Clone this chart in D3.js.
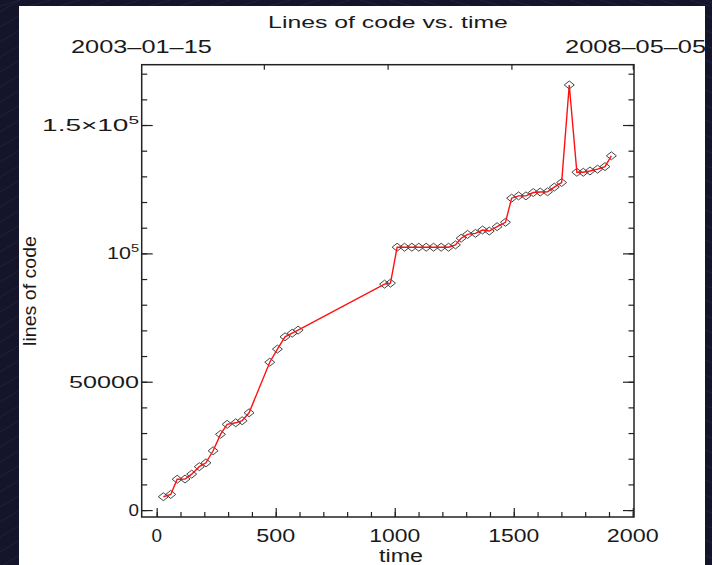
<!DOCTYPE html>
<html>
<head>
<meta charset="utf-8">
<script src="https://cdn.jsdelivr.net/npm/d3@7"></script>
<style>
  html, body { margin: 0; padding: 0; background: #14152a; }
  svg { display: block; }
  text { font-family: "Liberation Sans", Arial, sans-serif; fill: #1a1a1a; }
</style>
</head>
<body>
<svg id="chart" width="712" height="565"></svg>
<script>
// ---- data ----
const timeValues = [28,59,86,119,147,179,207,237,268,296,332,359,388,475,507,539,569,594,957,982,
  1010,1041,1072,1101,1132,1163,1195,1226,1255,1279,1306,1339,1369,1397,1430,1465,
  1491,1520,1551,1582,1611,1642,1670,1701,1733,1765,1792,1820,1852,1883,1910];
const linesOfCode = [5200,6100,12000,12100,14000,16900,18400,23100,29500,33400,34000,34800,37900,
  57600,62700,67500,68900,70100,88000,88400,
  102400,102400,102400,102400,102400,102400,102400,102400,
  103300,105900,107400,107800,109100,108700,110400,112100,
  121500,122400,122400,123700,123900,124000,125800,127600,
  165600,131600,131600,132100,132800,133800,138000];
const xTickValues = [0,500,1000,1500,2000];
const xTickLabels = ["0","500","1000","1500","2000"];
const yTickValues = [0,50000,100000,150000];
const yTickLabels = [["0",""],["50000",""],["10","5"],["1.5\u00d710","5"]];
const topTickValues = [450,970,1490,2000];
const dateLabels = ["2003\u201301\u201315","2008\u201305\u201305"];
const titleText = "Lines of code vs. time";
const xTitle = "time";
const yTitle = "lines of code";

// ---- layout ----
const svg = d3.select("#chart");
const W = 712, H = 565;
const L = 141.7, R = 634, T = 64.7, B = 517;

// background
svg.append("rect").attr("width", W).attr("height", H).attr("fill", "#14152a");
const deco = svg.append("g").attr("stroke", "#3a3d5e").attr("stroke-width", 0.6).attr("opacity", 0.55);
for (let i = 0; i < 40; i++) {
  const y0 = i * 15;
  deco.append("line").attr("x1", 0).attr("y1", y0 + 12).attr("x2", 20).attr("y2", y0);
  deco.append("line").attr("x1", 705).attr("y1", y0).attr("x2", 712).attr("y2", y0 + 3);
}
for (let i = 0; i < 24; i++) {
  const x0 = i * 30;
  if (x0 < 356) deco.append("line").attr("x1", x0).attr("y1", 6).attr("x2", x0 + 20).attr("y2", 0);
  else deco.append("line").attr("x1", x0).attr("y1", 0).attr("x2", x0 + 20).attr("y2", 6);
}
svg.append("rect").attr("x", 19).attr("y", 6).attr("width", 686).attr("height", H - 6).attr("fill", "#fff");

const x = d3.scaleLinear().domain([-63, 2005]).range([L, R]);
const y = d3.scaleLinear().domain([-2700, 173500]).range([B, T]);

// helper: text stretched horizontally to a target width
function fitText(g, xPos, yPos, anchor, parts, size, targetW, rotate) {
  const grp = g.append("g");
  const t = grp.append("text").attr("font-size", size).attr("text-anchor", anchor);
  t.append("tspan").text(parts[0]);
  if (parts[1]) t.append("tspan").attr("font-size", size * 0.68).attr("dy", -size * 0.42).text(parts[1]);
  const w = t.node().getBBox().width;
  const s = targetW ? targetW / w : 1;
  grp.attr("transform", `translate(${xPos},${yPos})` + (rotate ? ` rotate(${rotate})` : "") + ` scale(${s},1)`);
  return grp;
}

const texts = svg.append("g");
fitText(texts, 388, 28, "middle", [titleText], 17, 240);
fitText(texts, 71, 53, "start", [dateLabels[0]], 18, 141);
fitText(texts, 706, 53, "end", [dateLabels[1]], 18, 141);

// axes (ticks pointing inward)
const minorX = d3.range(0, 2001, 100);
const minorY = d3.range(0, 170001, 10000);
const axG = svg.append("g").attr("color", "#222");
function styleAxis(g) { g.select(".domain").remove(); g.selectAll("line").attr("stroke-width", 1.2); g.selectAll("text").remove(); }
axG.append("g").attr("transform", `translate(0,${B})`).call(d3.axisBottom(x).tickValues(minorX).tickSize(-5)).call(styleAxis);
axG.append("g").attr("transform", `translate(0,${B})`).call(d3.axisBottom(x).tickValues(xTickValues).tickSize(-9)).call(styleAxis);
axG.append("g").attr("transform", `translate(0,${T})`).call(d3.axisTop(x).tickValues(topTickValues).tickSize(-5)).call(styleAxis);
axG.append("g").attr("transform", `translate(${L},0)`).call(d3.axisLeft(y).tickValues(minorY).tickSize(-5.5)).call(styleAxis);
axG.append("g").attr("transform", `translate(${L},0)`).call(d3.axisLeft(y).tickValues(yTickValues).tickSize(-11)).call(styleAxis);
axG.append("g").attr("transform", `translate(${R},0)`).call(d3.axisRight(y).tickValues(minorY).tickSize(-5.5)).call(styleAxis);
axG.append("g").attr("transform", `translate(${R},0)`).call(d3.axisRight(y).tickValues(yTickValues).tickSize(-11)).call(styleAxis);
svg.append("rect").attr("x", L).attr("y", T).attr("width", R - L).attr("height", B - T)
  .attr("fill", "none").attr("stroke", "#222").attr("stroke-width", 1.5);

// tick labels
const xLabelW = {"0": 10.5, "500": 39, "1000": 51, "1500": 51, "2000": 52};
xTickValues.forEach((v, i) => fitText(texts, x(v), 542, "middle", [xTickLabels[i]], 18, xLabelW[xTickLabels[i]]));
const yLabelW = [10.5, 70, 32, 97];
yTickValues.forEach((v, i) => fitText(texts, 139, y(v) + 6, "end", yTickLabels[i], 17, yLabelW[i]));

fitText(texts, 401, 562, "middle", [xTitle], 18, 44);
fitText(texts, 36, 291, "middle", [yTitle], 18, 110, -90);

// data
const pts = timeValues.map((t, i) => [t, linesOfCode[i]]);
const sym = d3.symbol().type({
  draw(ctx) { ctx.moveTo(0, -4); ctx.lineTo(5, 0); ctx.lineTo(0, 4); ctx.lineTo(-5, 0); ctx.closePath(); }
});
svg.append("g").selectAll("path").data(pts).join("path")
  .attr("d", sym())
  .attr("transform", d => `translate(${x(d[0])},${y(d[1])})`)
  .attr("fill", "none").attr("stroke", "#444").attr("stroke-width", 1);
svg.append("path").datum(pts)
  .attr("d", d3.line().x(d => x(d[0])).y(d => y(d[1])))
  .attr("fill", "none").attr("stroke", "#ff1010").attr("stroke-width", 1.4);
</script>
</body>
</html>
